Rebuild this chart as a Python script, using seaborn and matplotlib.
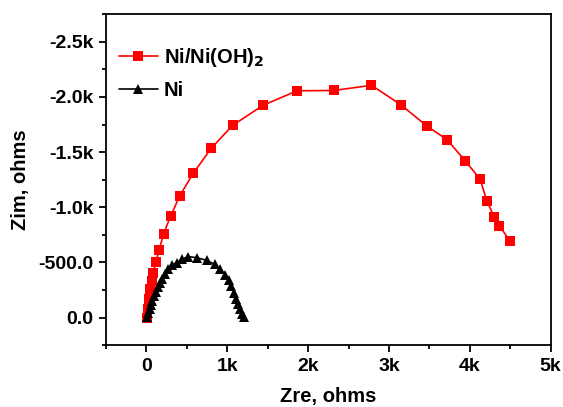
import matplotlib
matplotlib.use("Agg")
import matplotlib.pyplot as plt
import seaborn as sns
import pandas as pd
from matplotlib.ticker import MultipleLocator

# Ni/Ni(OH)2 series (Zre, Zim in ohms)
red_x = [8, 15, 31, 49, 65, 86, 115, 157, 212, 299, 411, 580, 802, 1065, 1444, 1864,
         2321, 2784, 3148, 3465, 3720, 3942, 4127, 4210, 4300, 4367, 4498]
red_y = [0, -75, -166, -263, -332, -408, -504, -610, -761, -918, -1102, -1309, -1535,
         -1742, -1925, -2056, -2059, -2106, -1929, -1739, -1612, -1422, -1256, -1060,
         -915, -833, -691]

# Ni series
ni_x = [5, 25, 41, 58, 74, 95, 115, 140, 169, 198, 231, 263, 312, 374, 436, 519, 626,
        744, 843, 914, 967, 1016, 1046, 1078, 1107, 1132, 1160, 1181, 1201]
ni_y = [-3, -39, -75, -111, -150, -196, -236, -277, -317, -353, -392, -438, -474, -498,
        -528, -553, -542, -519, -483, -437, -388, -338, -284, -226, -170, -120, -75,
        -34, -3]

series_names = ["Ni/Ni(OH)$_2$", "Ni"]
x_ticks = [0, 1000, 2000, 3000, 4000, 5000]
x_tick_labels = ["0", "1k", "2k", "3k", "4k", "5k"]
y_ticks = [0, -500, -1000, -1500, -2000, -2500]
y_tick_labels = ["0.0", "-500.0", "-1.0k", "-1.5k", "-2.0k", "-2.5k"]

sns.set_theme(style="ticks")
plt.rcParams["font.family"] = ["Liberation Sans", "DejaVu Sans"]
plt.rcParams["font.weight"] = "bold"
for k in ["text.color", "axes.labelcolor", "xtick.color", "ytick.color", "axes.edgecolor"]:
    plt.rcParams[k] = "black"

fig = plt.figure(figsize=(5.63, 4.07), dpi=100)
ax = fig.add_axes([0.1883, 0.152, 0.7897, 0.813])

df_red = pd.DataFrame({"x": red_x, "y": red_y})
df_ni = pd.DataFrame({"x": ni_x, "y": ni_y})

sns.lineplot(data=df_red, x="x", y="y", sort=False, color="#ff0000", marker="s",
             markersize=6.8, markeredgewidth=0, linewidth=1.2, label=series_names[0], ax=ax)
sns.lineplot(data=df_ni, x="x", y="y", sort=False, color="black", marker="^",
             markersize=7.2, markeredgewidth=0, linewidth=1.2, label=series_names[1], ax=ax)

ax.set_xlim(-500, 5000)
ax.set_ylim(250, -2750)
ax.set_xticks(x_ticks)
ax.set_xticklabels(x_tick_labels)
ax.set_yticks(y_ticks)
ax.set_yticklabels(y_tick_labels)
ax.xaxis.set_minor_locator(MultipleLocator(500))
ax.yaxis.set_minor_locator(MultipleLocator(250))

ax.tick_params(axis="both", which="major", direction="out", length=5, width=1.3,
               labelsize=14, pad=4, top=False, right=False, colors="black")
ax.tick_params(axis="both", which="minor", direction="out", length=3, width=1.3,
               top=False, right=False, colors="black")
for lab in ax.get_xticklabels() + ax.get_yticklabels():
    lab.set_fontweight("bold")

for s in ax.spines.values():
    s.set_linewidth(1.3)
    s.set_color("black")

ax.set_xlabel("Zre, ohms", fontsize=14.5, fontweight="bold", labelpad=9, color="black")
ax.set_ylabel("Zim, ohms", fontsize=14.5, fontweight="bold", labelpad=6, color="black")

leg = ax.legend(loc="upper left", bbox_to_anchor=(0.03, 0.905), frameon=False,
                prop={"size": 14.5, "weight": "bold"}, handlelength=1.9,
                handletextpad=0.3, labelspacing=0.6, borderaxespad=0, borderpad=0)
for t in leg.get_texts():
    t.set_color("black")

fig.savefig("out.png", dpi=100, facecolor="white")
